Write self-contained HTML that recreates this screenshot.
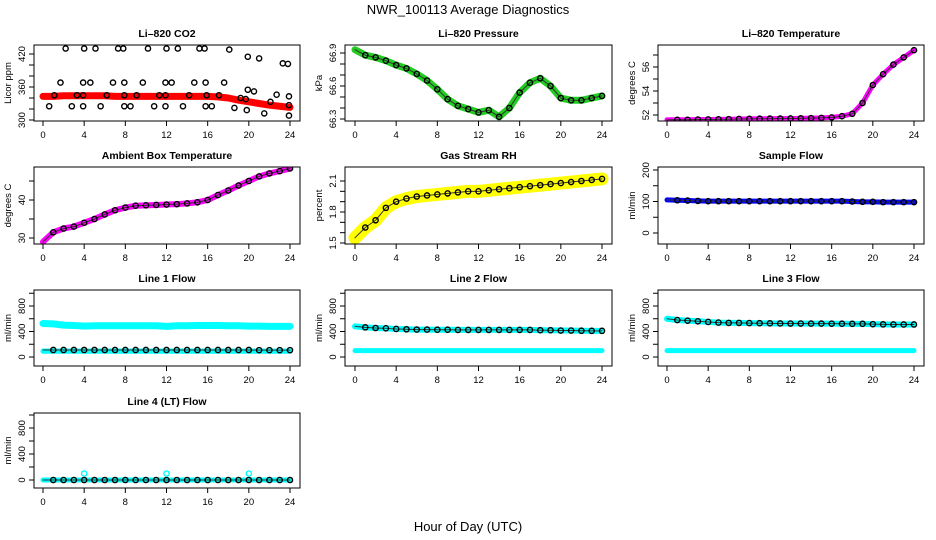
<!DOCTYPE html>
<html><head><meta charset="utf-8"><style>
body{margin:0;background:#fff}
svg{display:block;font-family:"Liberation Sans",sans-serif}
</style></head><body>
<svg id="c" width="936" height="540" viewBox="0 0 936 540">
<text x="468" y="14" font-size="13" text-anchor="middle">NWR_100113  Average Diagnostics</text>
<text x="468" y="531" font-size="13" text-anchor="middle">Hour of Day (UTC)</text>
</svg>
<script>
const hours=[0,1,2,3,4,5,6,7,8,9,10,11,12,13,14,15,16,17,18,19,20,21,22,23,24];
const xTicks=[0,4,8,12,16,20,24];
const co2Band=[343,343,344,344,344,344,344,343,343,343,343,343,343,343,343,343,343,342,340,336,333,330,327,325,323];
const co2ScatterX=[2.2,4,5.1,7.3,7.8,10.2,12,13.1,15.2,15.7,18.1,19.9,21,23.3,23.8,1.7,3.9,4.6,6.8,7.9,9.7,11.9,12.5,14.7,15.8,17.6,19.9,20.5,22.7,23.9,1.1,3.3,3.9,6.2,7.9,9.1,11.3,11.9,14.2,15.9,17.1,19.2,19.7,22.1,23.9,0.6,2.8,3.9,5.6,7.9,8.5,10.8,11.9,13.6,15.8,16.4,18.6,19.8,21.5,23.9];
const co2ScatterY=[430,430,430,430,430,430,430,430,430,430,428,415,412,403,402,368,368,368,368,368,368,368,368,368,368,368,355,352,346,343,345,345,345,345,345,345,345,345,345,345,345,340,338,333,327,325,325,325,325,325,325,325,325,325,325,325,322,318,312,308];
const pressure=[66.93,66.88,66.86,66.83,66.79,66.76,66.71,66.65,66.57,66.48,66.42,66.39,66.36,66.38,66.32,66.40,66.54,66.63,66.67,66.60,66.49,66.47,66.47,66.49,66.51];
const licorTemp=[51.6,51.6,51.6,51.62,51.63,51.64,51.65,51.67,51.68,51.69,51.7,51.7,51.71,51.72,51.74,51.76,51.8,51.9,52.1,53.0,54.5,55.4,56.2,56.8,57.4];
const ambient=[29,31.5,32.5,33,34,35,36.2,37.3,38,38.5,38.6,38.7,38.8,38.9,39.1,39.4,40,41.3,42.5,43.8,45,46.2,47,47.6,48.3];
const rh=[1.55,1.65,1.72,1.84,1.9,1.93,1.95,1.96,1.97,1.98,1.99,2.0,2.0,2.01,2.02,2.03,2.04,2.05,2.06,2.07,2.08,2.09,2.1,2.11,2.12];
const sampleFlow=[105,104,103,102,101,101,101,101,101,101,101,101,101,101,101,101,101,101,100,99,99,98,98,98,98];
const line1Upper=[525,520,500,495,485,490,490,490,490,490,490,490,480,490,490,495,495,495,490,490,485,485,480,480,480];
const line1Black=[110,110,110,110,110,110,110,110,110,110,110,110,110,110,110,110,110,110,110,110,110,108,108,108,108];
const line1Lower=[90,90,90,90,90,90,90,90,90,90,90,90,90,90,90,90,90,90,90,90,90,90,90,90,90];
const line2Upper=[480,465,455,450,440,435,430,430,428,428,425,425,425,425,425,425,425,425,420,420,415,415,412,410,410];
const line2Lower=[100,100,100,100,100,100,100,100,100,100,100,100,100,100,100,100,100,100,100,100,100,100,100,100,100];
const line3Upper=[600,580,570,560,550,540,535,535,532,530,528,526,525,525,524,524,523,522,520,520,515,512,510,510,510];
const line3Lower=[100,100,100,100,100,100,100,100,100,100,100,100,100,100,100,100,100,100,100,100,100,100,100,100,100];
const line4=[0,0,0,0,0,0,0,0,0,0,0,0,0,0,0,0,0,0,0,0,0,0,0,0,0];
const line4OutX=[4,12,20];
const line4OutY=[100,100,100];

const svg=document.getElementById('c');
const NS='http://www.w3.org/2000/svg';
function mk(tag,attrs,parent){const e=document.createElementNS(NS,tag);for(const k in attrs)e.setAttribute(k,attrs[k]);(parent||svg).appendChild(e);return e;}

const cols=[{l:34,r:300,x0:43,x1:290},{l:345,r:612,x0:355,x1:602},{l:658,r:924,x0:667,x1:914}];
const rows=[{t:45,b:121},{t:167,b:244},{t:290,b:366},{t:413,b:488}];

function panel(name,title,col,row,ylab,vmin,pmin,vmax,pmax,ticks,labels){
  const c=cols[col],r=rows[row];
  const g=mk('g',{});
  
  
  const xs=h=>c.x0+(c.x1-c.x0)*h/24;
  const ys=v=>pmin+(pmax-pmin)*(v-vmin)/(vmax-vmin);
  const t=mk('text',{x:(c.l+c.r)/2,y:r.t-8,'font-size':10.5,'font-weight':'bold','text-anchor':'middle'},g);
  t.textContent=title;
  
  
  const xa=mk('g',{},g);
  
  
  mk('line',{x1:xs(0),x2:xs(24),y1:r.b,y2:r.b,stroke:'#000'},xa);
  xTicks.forEach(h=>{mk('line',{x1:xs(h),x2:xs(h),y1:r.b,y2:r.b+5,stroke:'#000'},xa);
    const tx=mk('text',{x:xs(h),y:r.b+17,'font-size':9.5,'text-anchor':'middle'},xa);tx.textContent=h;});
  const ya=mk('g',{},g);
  
  
  mk('line',{x1:c.l,x2:c.l,y1:ys(ticks[0]),y2:ys(ticks[ticks.length-1]),stroke:'#000'},ya);
  ticks.forEach(v=>{mk('line',{x1:c.l-5,x2:c.l,y1:ys(v),y2:ys(v),stroke:'#000'},ya);});
  labels.forEach(v=>{const y=ys(v);const tx=mk('text',{x:c.l-9,y:y,'font-size':9.5,'text-anchor':'middle',transform:`rotate(-90 ${c.l-9} ${y})`},ya);tx.textContent=v;});
  const yl=mk('text',{x:c.l-23,y:(r.t+r.b)/2,'font-size':9.5,'text-anchor':'middle',transform:`rotate(-90 ${c.l-23} ${(r.t+r.b)/2})`},ya);
  yl.textContent=ylab;
  
  
  const plot=mk('g',{},g);
  mk('clipPath',{id:'cp'+name},g).appendChild(mk('rect',{x:c.l,y:r.t,width:c.r-c.l,height:r.b-r.t},g));
  plot.setAttribute('clip-path','url(#cp'+name+')');
  mk('rect',{x:c.l,y:r.t,width:c.r-c.l,height:r.b-r.t,fill:'none',stroke:'#000'},g);
  return {xs,ys,plot};
}
function band(p,vals,color,w,nm){
  const d=vals.map((v,i)=>(i?'L':'M')+p.xs(hours[i])+','+p.ys(v)).join('');
  const e=mk('path',{d:d,fill:'none',stroke:color,'stroke-width':w,'stroke-linejoin':'round','stroke-linecap':'round'},p.plot);
  
  
}
function circles(p,xv,yv,color,nm){
  xv.forEach((h,i)=>{const e=mk('circle',{cx:p.xs(h),cy:p.ys(yv[i]),r:2.6,fill:'none',stroke:color,'stroke-width':1.4},p.plot);
    
    });
}
function series(p,vals,bandColor,w,nm,black){
  band(p,vals,bandColor,w,nm+'-band');
  if(black!==false){
    band(p,vals,'#333',1,nm+'-line');
    circles(p,hours.slice(1),vals.slice(1),'#000',nm+'-point');
  }
}
let p;
p=panel('co2-panel','Li\u2013820 CO2',0,0,'Licor ppm',300,120,420,54,[300,320,340,360,380,400,420],[300,360,420]);
band(p,co2Band,'#ff0000',7,'co2-band');
circles(p,co2ScatterX,co2ScatterY,'#000','co2-point');
p=panel('pressure-panel','Li\u2013820 Pressure',1,0,'kPa',66.3,119,66.9,53,[66.3,66.4,66.5,66.6,66.7,66.8,66.9],[66.3,66.6,66.9]);
series(p,pressure,'#22cc22',7,'pressure');
p=panel('licor-temp-panel','Li\u2013820 Temperature',2,0,'degrees C',52,115,56,67,[52,53,54,55,56,57],[52,54,56]);
series(p,licorTemp,'#ff00ff',5,'licor-temp');
p=panel('ambient-panel','Ambient Box Temperature',0,1,'degrees C',30,238,40,200,[30,35,40,45],[30,40]);
series(p,ambient,'#ff00ff',6,'ambient-temp');
p=panel('rh-panel','Gas Stream RH',1,1,'percent',1.5,243,2.1,181,[1.5,1.6,1.7,1.8,1.9,2.0,2.1],[1.5,1.8,2.1]);
series(p,rh,'#ffff00',13,'rh');
p=panel('sample-flow-panel','Sample Flow',2,1,'ml/min',0,233,200,170,[0,50,100,150,200],[0,100,200]);
series(p,sampleFlow,'#0000ff',5,'sample-flow');
p=panel('line1-panel','Line 1 Flow',0,2,'ml/min',0,357,800,306,[0,200,400,600,800,1000],[0,400,800]);
band(p,line1Upper,'#00ffff',7,'line1-upper-band');
band(p,line1Lower,'#00ffff',5,'line1-lower-band');
series(p,line1Black,'#00ffff',3,'line1-black');
p=panel('line2-panel','Line 2 Flow',1,2,'ml/min',0,357,800,306,[0,200,400,600,800,1000],[0,400,800]);
band(p,line2Lower,'#00ffff',5,'line2-lower-band');
series(p,line2Upper,'#00ffff',6,'line2-upper');
p=panel('line3-panel','Line 3 Flow',2,2,'ml/min',0,357,800,306,[0,200,400,600,800,1000],[0,400,800]);
band(p,line3Lower,'#00ffff',5,'line3-lower-band');
series(p,line3Upper,'#00ffff',6,'line3-upper');
p=panel('line4-panel','Line 4 (LT) Flow',0,3,'ml/min',0,480,800,428,[0,200,400,600,800,1000],[0,400,800]);
series(p,line4,'#00ffff',5,'line4');
circles(p,line4OutX,line4OutY,'#00ffff','line4-outlier');
</script>
</body></html>
